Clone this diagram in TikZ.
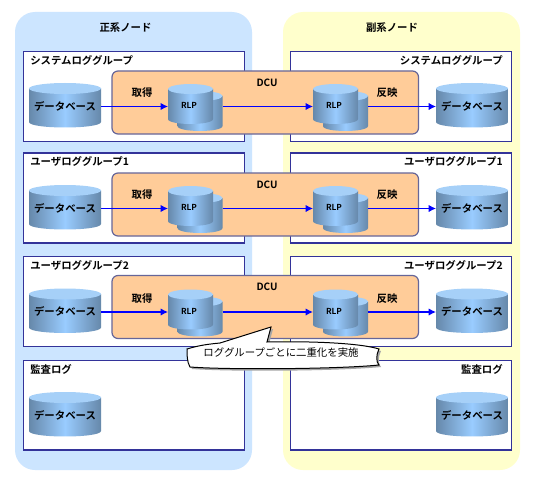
\documentclass[tikz,border=0pt]{standalone}
\usepackage{fontspec}
\setmainfont{Noto Sans CJK JP}[BoldFont={Noto Sans CJK JP Bold}]
\usetikzlibrary{arrows.meta}
\definecolor{panelblue}{HTML}{CCE5FF}
\definecolor{panelyellow}{HTML}{FFFFCC}
\definecolor{framecol}{HTML}{333399}
\definecolor{dcufill}{HTML}{FFCC99}
\definecolor{dcuframe}{HTML}{666699}
\definecolor{cylside}{HTML}{6688AA}
\definecolor{cylmid}{HTML}{99CCFF}
\definecolor{cyltop}{HTML}{A6D0F8}
\tikzset{
  x=0.75pt,y=-0.75pt,
  panelbox/.style={rounded corners=15pt,draw=none},
  groupbox/.style={draw=framecol,line width=0.8pt,fill=white},
  dcubox/.style={draw=dcuframe,line width=0.9pt,fill=dcufill,rounded corners=4.5pt},
  lab/.style={font=\bfseries\fontsize{7.8}{9}\selectfont,inner sep=0pt,text=black},
  dbnode/.style={lab,minimum width=54pt,minimum height=33pt,inner sep=0pt},
  rlpnode/.style={lab,font=\bfseries\fontsize{6.2}{8}\selectfont,minimum width=33pt,minimum height=30pt,inner sep=0pt},
  flow/.style={draw=blue,line width=0.9pt,-{Latex[length=5.5pt,width=5.5pt]}},
}
\newcommand{\cyl}[5]{% cx, top, bottom, rx, ry
  \pgfmathsetmacro{\xa}{#1-#4}\pgfmathsetmacro{\xb}{#1+#4}
  \pgfmathsetmacro{\yt}{#2+#5}\pgfmathsetmacro{\yb}{#3-#5}
  \pgfmathsetmacro{\yc}{\yb+1.33*#5}
  \shade[left color=cylside,right color=cylside,middle color=cylmid]
    (\xa,\yt) -- (\xa,\yb) .. controls (\xa,\yc) and (\xb,\yc) .. (\xb,\yb) -- (\xb,\yt) -- cycle;
  \fill[cyltop] (#1,\yt) ellipse[x radius=#4,y radius=#5];
}
\begin{document}
\begin{tikzpicture}
\useasboundingbox (0,0) rectangle (539,485);
\fill[white] (0,0) rectangle (539,485);
\fill[panelblue,panelbox] (15,12) rectangle (252,470);
\fill[panelyellow,panelbox] (283,12) rectangle (520,470);
\node[lab] (ptitle) at (125.5,28) {正系ノード};
\node[lab] (stitle) at (392,28) {副系ノード};
\foreach \r/\bt/\off/\dt/\ttl in {a/51.5/0/71/システムロググループ,b/153/102/173/ユーザロググループ1,c/256.5/205.5/275.5/ユーザロググループ2}{
  \draw[groupbox] (23.5,\bt) rectangle (244.5,\bt+90);
  \draw[groupbox] (290.5,\bt) rectangle (511.5,\bt+90);
  \node[lab,anchor=west] (lt\r) at (30,\bt+8.5) {\ttl};
  \node[lab,anchor=east] (rt\r) at (503,\bt+8.5) {\ttl};
  \draw[dcubox] (112,\dt) rectangle (418.5,\dt+63);
  \node[lab,font=\bfseries\fontsize{7.5}{9}\selectfont] (dcu\r) at (267,\dt+11.5) {DCU};
  \cyl{65}{83+\off}{127.5+\off}{36}{5.5}
  \cyl{472}{83+\off}{127.5+\off}{36}{5.5}
  \node[dbnode] (ldb\r) at (65,106+\off) {データベース};
  \node[dbnode] (rdb\r) at (472,106+\off) {データベース};
  \cyl{200}{91+\off}{131+\off}{22.5}{5}
  \cyl{190.5}{84+\off}{124+\off}{22.5}{5}
  \cyl{345.5}{91+\off}{131+\off}{22.5}{5}
  \cyl{335.5}{84+\off}{124+\off}{22.5}{5}
  \node[rlpnode] (lfront\r) at (189,105.5+\off) {RLP};
  \node[rlpnode] (rfront\r) at (334,105.5+\off) {RLP};
  \coordinate (lback\r) at (222.5,106.5+\off);
  \coordinate (rback\r) at (368,106.5+\off);
  \coordinate (lin\r) at (168,106.5+\off);
  \coordinate (rin\r) at (313,106.5+\off);
  \coordinate (dbout\r) at (101,106.5+\off);
  \coordinate (dbin\r) at (436,106.5+\off);
  \node[lab] (get\r) at (142,93+\off) {取得};
  \node[lab] (ref\r) at (387,93+\off) {反映};
  \draw[flow] (dbout\r) -- (lin\r);
  \draw[flow] (lback\r) -- (rin\r);
  \draw[flow] (rback\r) -- (dbin\r);
}
\draw[groupbox] (23.5,360.5) rectangle (244.5,450);
\draw[groupbox] (290.5,360.5) rectangle (511.5,450);
\node[lab,anchor=west] (ltd) at (30,369) {監査ログ};
\node[lab,anchor=east] (rtd) at (503,369) {監査ログ};
\cyl{65}{392}{436.5}{36}{5.5}
\cyl{472}{392}{436.5}{36}{5.5}
\node[dbnode] (ldbd) at (65,415) {データベース};
\node[dbnode] (rdbd) at (472,415) {データベース};
% callout
\def\calloutpath{(187,349) .. controls (200,345) and (210,344) .. (220,343)
  -- (271,327) -- (267,342) .. controls (310,341) and (360,343) .. (379,349)
  .. controls (376,355) and (376,362) .. (379,365)
  .. controls (340,369) and (230,370) .. (190,367)
  .. controls (187,362) and (187,355) .. (187,349) -- cycle}
\fill[gray!70,shift={(2,2)}] \calloutpath;
\draw[black,line width=0.75pt,fill=white] \calloutpath;
\node[lab,font=\fontsize{7.8}{9}\selectfont] (note) at (281,353) {ロググループごとに二重化を実施};
\end{tikzpicture}
\end{document}
